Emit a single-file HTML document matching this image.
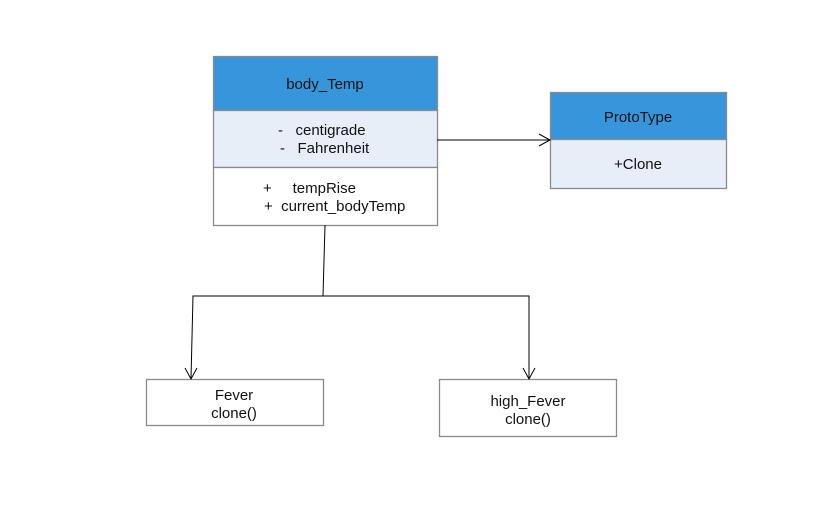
<!DOCTYPE html>
<html><head><style>
body{margin:0;background:#fff;}
svg text{font-family:"Liberation Sans",sans-serif;font-size:15px;fill:#111;white-space:pre;}
</style></head><body>
<svg width="818" height="501" viewBox="0 0 818 501" xmlns="http://www.w3.org/2000/svg" xml:space="preserve">
<g stroke="#8a8a8a" stroke-width="1.3">
<rect x="213.5" y="56.5" width="224" height="54" fill="#3796db"/>
<rect x="213.5" y="110.5" width="224" height="57" fill="#e8eef8"/>
<rect x="213.5" y="167.5" width="224" height="58" fill="#fff"/>
<rect x="550.5" y="92.5" width="176" height="47" fill="#3796db"/>
<rect x="550.5" y="139.5" width="176" height="49" fill="#e8eef8"/>
<rect x="146.5" y="379.5" width="177" height="46" fill="#fff"/>
<rect x="439.5" y="379.5" width="177" height="57" fill="#fff"/>
</g>
<g stroke="#000" stroke-width="1" fill="none">
<line x1="437" y1="140" x2="550" y2="140"/>
<polyline points="539,134 550,140 539,146"/>
<polyline points="325,225 323,296"/>
<polyline points="191,379 193,296 529,296 529,379"/>
<polyline points="185,368 191,379 197,368"/>
<polyline points="523,368 529,379 535,368"/>
</g>
<text x="325" y="89" text-anchor="middle">body_Temp</text>
<text x="278" y="135">-   centigrade</text>
<text x="280" y="153">-   Fahrenheit</text>
<text x="263" y="193">+     tempRise</text>
<text x="264" y="211">+  current_bodyTemp</text>
<text x="638" y="122" text-anchor="middle">ProtoType</text>
<text x="638" y="169" text-anchor="middle">+Clone</text>
<text x="234" y="400" text-anchor="middle">Fever</text>
<text x="234" y="418" text-anchor="middle">clone()</text>
<text x="528" y="406" text-anchor="middle">high_Fever</text>
<text x="528" y="424" text-anchor="middle">clone()</text>
</svg>
</body></html>
